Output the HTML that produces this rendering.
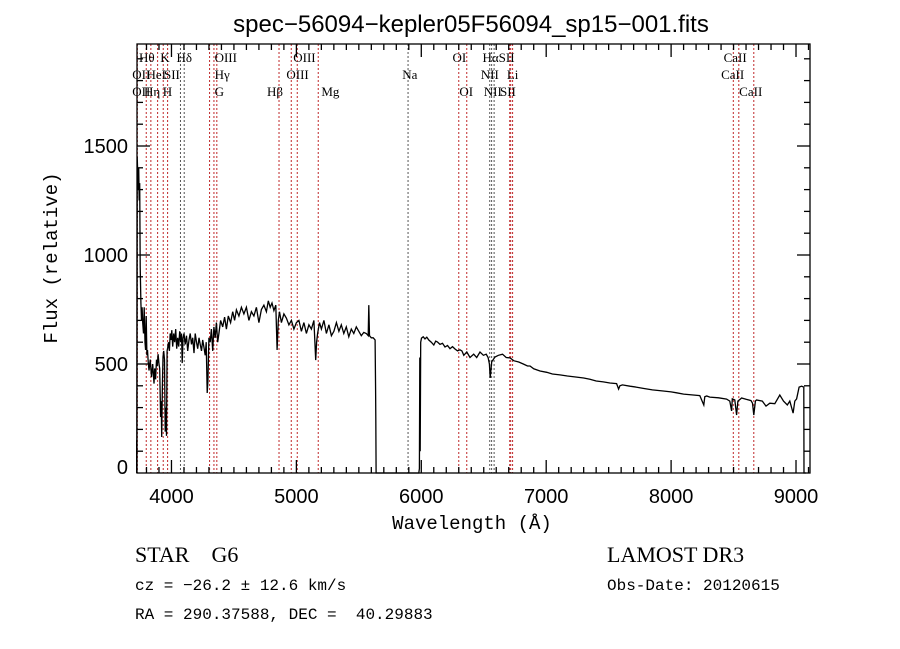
<!DOCTYPE html>
<html><head><meta charset="utf-8"><style>
html,body{margin:0;padding:0;background:#fff;}
svg{display:block;}
text{white-space:pre;}
</style></head><body>
<svg id="chart" width="900" height="649" viewBox="0 0 900 649" xmlns="http://www.w3.org/2000/svg">
<defs><clipPath id="plotclip"><rect x="136" y="44" width="675" height="430"/></clipPath></defs>
<rect x="0" y="0" width="900" height="649" fill="#fff"/>
<text x="471" y="32" text-anchor="middle" font-family="Liberation Sans, sans-serif" font-size="24" fill="#000">spec−56094−kepler05F56094_sp15−001.fits</text>
<g id="lines"></g>
<g id="labels" font-family="Liberation Serif, serif" font-size="13" fill="#000"></g>
<polyline id="spec" clip-path="url(#plotclip)" fill="none" stroke="#000" stroke-width="1.3"/>
<g id="axes" stroke="#000" stroke-width="1.3" fill="none"></g>
<g id="ticklabels" font-family="Liberation Sans, sans-serif" font-size="20" fill="#000"></g>
<text x="472" y="529" text-anchor="middle" font-family="Liberation Mono, monospace" font-size="19" fill="#000">Wavelength (Å)</text>
<text x="0" y="0" transform="translate(57,258) rotate(-90)" text-anchor="middle" font-family="Liberation Mono, monospace" font-size="19" fill="#000">Flux (relative)</text>
<text x="135" y="562" font-family="Liberation Serif, serif" font-size="22" fill="#000">STAR    G6</text>
<text x="607" y="562" font-family="Liberation Serif, serif" font-size="22" fill="#000">LAMOST DR3</text>
<text x="135" y="590" font-family="Liberation Mono, monospace" font-size="16" fill="#000">cz = −26.2 ± 12.6 km/s</text>
<text x="607" y="590" font-family="Liberation Mono, monospace" font-size="16" fill="#000">Obs-Date: 20120615</text>
<text x="135" y="619" font-family="Liberation Mono, monospace" font-size="16" fill="#000">RA = 290.37588, DEC =  40.29883</text>
</svg>
<script>
const blueSpectrum = [[3714,0],[3718,150],[3722,20],[3726,1450],[3730,1380],[3734,1300],[3738,1400],[3742,1250],[3746,1330],[3750,945],[3755,780],[3760,700],[3765,760],[3770,690],[3776,640],[3782,760],[3788,600],[3793,564],[3798,720],[3803,540],[3808,564],[3814,510],[3820,470],[3830,520],[3840,440],[3850,500],[3860,410],[3866,480],[3873,430],[3880,520],[3886,490],[3893,545],[3900,500],[3906,480],[3913,257],[3918,330],[3922,165],[3927,400],[3932,532],[3938,560],[3944,520],[3950,190],[3955,300],[3960,170],[3965,560],[3970,575],[3976,600],[3983,560],[3990,640],[3996,610],[4003,655],[4010,580],[4018,640],[4026,600],[4034,660],[4042,570],[4050,620],[4058,580],[4066,650],[4074,600],[4080,640],[4086,504],[4092,620],[4100,640],[4110,590],[4120,630],[4130,560],[4140,610],[4150,640],[4160,590],[4170,620],[4180,550],[4190,640],[4200,600],[4210,570],[4220,620],[4230,590],[4240,560],[4250,610],[4260,575],[4270,540],[4278,600],[4286,367],[4292,420],[4300,620],[4310,600],[4320,660],[4330,560],[4340,670],[4350,620],[4360,690],[4370,600],[4380,640],[4393,700],[4410,670],[4425,715],[4440,660],[4455,720],[4473,690],[4490,740],[4505,700],[4520,748],[4540,720],[4560,760],[4580,730],[4600,760],[4620,700],[4640,740],[4660,720],[4680,760],[4700,690],[4720,750],[4740,770],[4760,740],[4775,790],[4790,760],[4805,780],[4820,745],[4835,770],[4846,564],[4855,700],[4865,740],[4880,690],[4900,730],[4920,710],[4940,680],[4960,700],[4980,660],[5000,690],[5020,700],[5040,650],[5060,690],[5080,640],[5100,680],[5120,660],[5140,700],[5155,518],[5162,600],[5170,640],[5185,690],[5200,660],[5220,700],[5240,640],[5260,680],[5280,630],[5300,650],[5320,690],[5340,650],[5360,680],[5380,640],[5400,670],[5420,625],[5440,660],[5460,640],[5480,670],[5500,650],[5520,630],[5540,645],[5560,640],[5575,630],[5580,770],[5585,630],[5600,620],[5615,620],[5630,610],[5634,380],[5636,257],[5638,0]];
const redSpectrum = [[5638,0],[5980,0],[5985,20],[5988,530],[5991,100],[5995,600],[6002,619],[6015,625],[6030,615],[6044,623],[6060,610],[6080,600],[6100,587],[6115,605],[6130,601],[6150,590],[6170,595],[6190,578],[6210,585],[6230,570],[6250,580],[6270,569],[6290,560],[6310,565],[6325,560],[6340,540],[6364,555],[6390,530],[6420,545],[6444,530],[6470,555],[6497,540],[6520,545],[6535,530],[6545,500],[6552,436],[6564,510],[6590,532],[6617,540],[6650,545],[6680,530],[6710,528],[6740,515],[6780,509],[6817,500],[6850,491],[6870,491],[6900,478],[6950,468],[7004,462],[7050,454],[7110,450],[7170,445],[7244,440],[7300,436],[7350,430],[7400,422],[7457,418],[7510,413],[7564,410],[7580,385],[7590,400],[7610,404],[7670,398],[7720,394],[7777,388],[7850,381],[7937,376],[8000,372],[8044,368],[8100,362],[8177,358],[8230,355],[8262,312],[8270,350],[8285,353],[8310,348],[8380,345],[8444,339],[8470,330],[8484,285],[8490,340],[8510,335],[8524,266],[8535,330],[8556,340],[8564,344],[8600,338],[8640,332],[8652,320],[8662,266],[8675,330],[8684,335],[8730,330],[8760,307],[8790,320],[8830,318],[8870,358],[8900,330],[8930,312],[8950,330],[8977,275],[8990,330],[9005,340],[9025,394],[9045,398],[9062,394],[9064,0],[9080,0]];
const lineWaves = [3727,3798,3835,3889,3934,3969,4072,4102,4305,4340,4363,4861,4959,5007,5175,5894,6300,6364,6548,6563,6583,6708,6716,6731,8498,8542,8662];
const lineColors = ['r','r','r','r','r','r','k','k','r','r','r','r','r','r','r','k','r','r','k','k','k','r','r','r','r','r','r'];
const labelTexts = ['Hθ','K','Hδ','OIII','OIII','OII','HeI','SII','Hγ','OIII','Na','NII','Li','CaII','OII','Hη','H','G','Hβ','Mg','OI','NII','SII','CaII','OI','HαSII','CaII'];
const labelWaves = [3740,3910,4040,4345,4975,3686,3800,3940,4345,4920,5848,6476,6685,8400,3686,3780,3930,4345,4765,5200,6305,6500,6630,8545,6250,6490,8420];
const labelRows = [0,0,0,0,0,1,1,1,1,1,1,1,1,1,2,2,2,2,2,2,2,2,2,2,0,0,0];
const xTicksMajor = [4000,5000,6000,7000,8000,9000];
const yTicksMajor = [0,500,1000,1500];

const X0=137,X1=810,Y0=473,Y1=44;
const WMIN=3724,WMAX=9112;
function xs(w){return X0+(w-WMIN)*(X1-X0)/(WMAX-WMIN);}
function ys(f){return Y0-f*0.218;}
const NS='http://www.w3.org/2000/svg';
function mk(tag,attrs,parent){const e=document.createElementNS(NS,tag);for(const k in attrs)e.setAttribute(k,attrs[k]);parent.appendChild(e);return e;}

const pts=[];
blueSpectrum.concat(redSpectrum).forEach(p=>{pts.push(xs(p[0]).toFixed(1)+','+Math.max(Y1,ys(p[1])).toFixed(1));});
document.getElementById('spec').setAttribute('points',pts.join(' '));

const lg=document.getElementById('lines');
lineWaves.forEach((w,i)=>{
  const x=xs(w);
  const l=mk('line',{x1:x,x2:x,y1:Y1,y2:Y0,stroke:lineColors[i]==='r'?'#c0282a':'#555','stroke-width':1,'stroke-dasharray':'2,2'},lg);
  
  
});
const lb=document.getElementById('labels');
const rowY=[62,79,96];
labelTexts.forEach((t,i)=>{
  const e=mk('text',{x:xs(labelWaves[i]),y:rowY[labelRows[i]]},lb);
  e.textContent=t;
  
  
});

const ax=document.getElementById('axes');
const fr=mk('rect',{x:X0,y:Y1,width:X1-X0,height:Y0-Y1},ax);


const tl=document.getElementById('ticklabels');
for(let w=3800;w<=9100;w+=100){
  const x=xs(w);const maj=(w%1000===0);const len=maj?13:6;
  const t1=mk('line',{x1:x,x2:x,y1:Y0,y2:Y0-len},ax);
  
  
  const t2=mk('line',{x1:x,x2:x,y1:Y1,y2:Y1+len},ax);
  
  
}
xTicksMajor.forEach(w=>{
  const e=mk('text',{x:xs(w),y:503,'text-anchor':'middle'},tl);
  e.textContent=String(w);
  
  
});
for(let f=100;f<=1900;f+=100){
  const y=ys(f);const maj=(f%500===0);const len=maj?13:6;
  const t1=mk('line',{x1:X0,x2:X0+len,y1:y,y2:y},ax);
  
  
  const t2=mk('line',{x1:X1,x2:X1-len,y1:y,y2:y},ax);
  
  
}
yTicksMajor.forEach(f=>{
  const e=mk('text',{x:128,y:Math.min(ys(f)+7,474),'text-anchor':'end'},tl);
  e.textContent=String(f);
  
  
});
</script>
</body></html>
